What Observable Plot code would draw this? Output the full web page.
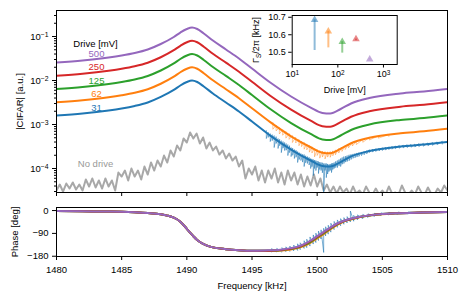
<!DOCTYPE html>
<html><head><meta charset="utf-8">
<script src="https://cdn.jsdelivr.net/npm/d3@7"></script>
<script src="https://cdn.jsdelivr.net/npm/@observablehq/plot@0.6"></script>
<style>
html,body{margin:0;padding:0;background:#fff;}
#wrap{position:relative;width:469px;height:300px;font-family:"Liberation Sans",Arial,sans-serif;}
#wrap svg{display:block;}
#inset{position:absolute;left:250px;top:0;width:160px;height:95px;}
</style></head><body>
<div id="wrap"><div id="top"></div><div id="bottom"></div><div id="inset"></div></div>
<script>
// ---------- data ----------
const drives = [500, 250, 125, 62, 31];
const colors = ["#9467bd", "#d62728", "#2ca02c", "#ff7f0e", "#1f77b4"];
const xTicks = [1480, 1485, 1490, 1495, 1500, 1505, 1510];
const yMajor = [1e-4, 1e-3, 1e-2, 1e-1];
const yMinor = [3e-5,4e-5,5e-5,6e-5,7e-5,8e-5,9e-5,2e-4,3e-4,4e-4,5e-4,6e-4,7e-4,8e-4,9e-4,2e-3,3e-3,4e-3,5e-3,6e-3,7e-3,8e-3,9e-3,2e-2,3e-2,4e-2,5e-2,6e-2,7e-2,8e-2,9e-2,2e-1,3e-1];
const phaseTicks = [0, -90, -180];

const freq = [1480,1482,1484,1485,1486,1487,1488,1489,1489.5,1490,1490.4,1490.8,1491.3,1492,1493,1494,1495,1496.4,1498,1499.5,1500.4,1501,1501.8,1502.6,1504,1506.4,1508.2,1510];
const amp500 = [0.0257,0.0285,0.0333,0.0370,0.0422,0.0507,0.0676,0.0975,0.123,0.148,0.160,0.148,0.117,0.0811,0.0507,0.0316,0.0187,0.00901,0.00433,0.00243,0.00183,0.00178,0.00225,0.00300,0.00400,0.00507,0.00562,0.00641];
const amp250 = [0.0129,0.0143,0.0167,0.0185,0.0211,0.0254,0.0338,0.0488,0.0615,0.074,0.080,0.074,0.0585,0.0406,0.0254,0.0158,0.00935,0.0045,0.00217,0.00122,0.000915,0.00089,0.00113,0.0015,0.0020,0.00254,0.00281,0.0032];
const amp125 = [0.00643,0.00713,0.00833,0.00925,0.01055,0.0127,0.0169,0.0244,0.0308,0.037,0.040,0.037,0.0293,0.0203,0.0127,0.0079,0.00468,0.00225,0.00108,0.00061,0.000458,0.000445,0.000563,0.00075,0.0010,0.00127,0.0014,0.0016];
const amp62 = [0.00321,0.00356,0.00416,0.00463,0.00528,0.00634,0.00845,0.0122,0.0154,0.0185,0.020,0.0185,0.0146,0.0101,0.00634,0.00395,0.00234,0.00113,0.00054,0.000304,0.000229,0.000223,0.000281,0.000375,0.0005,0.000634,0.0007,0.0008];
const amp31 = [0.00161,0.00178,0.00208,0.00231,0.00264,0.00317,0.00423,0.0061,0.0077,0.00925,0.010,0.00925,0.0073,0.00507,0.00317,0.00198,0.00117,0.00056,0.00027,0.000152,0.000114,0.000111,0.00014,0.000188,0.00025,0.000317,0.00035,0.0004];

// noise of the weakest drives: [freq, upper, lower]
const noise31 = [[1496.1,7.3e-4,4.8e-4],[1496.25,6.6e-4,5.1e-4],[1496.4,6.2e-4,4.1e-4],[1496.55,5.9e-4,4.3e-4],[1496.7,5.6e-4,3.0e-4],[1496.85,5.3e-4,3.7e-4],[1497.0,4.8e-4,2.85e-4],[1497.12,4.6e-4,3.3e-4],[1497.25,4.3e-4,2.3e-4],[1497.38,4.1e-4,2.9e-4],[1497.5,3.9e-4,2.57e-4],[1497.62,3.7e-4,2.6e-4],[1497.75,3.5e-4,1.97e-4],[1497.88,3.3e-4,2.3e-4],[1498.0,3.0e-4,1.87e-4],[1498.12,2.9e-4,2.0e-4],[1498.25,2.7e-4,1.69e-4],[1498.38,2.6e-4,1.8e-4],[1498.5,2.43e-4,1.37e-4],[1498.62,2.3e-4,1.6e-4],[1498.75,2.19e-4,1.52e-4],[1498.88,2.1e-4,1.4e-4],[1499.0,2.08e-4,1.11e-4],[1499.12,1.95e-4,1.35e-4],[1499.25,1.87e-4,1.30e-4],[1499.38,1.8e-4,1.2e-4],[1499.5,1.69e-4,1.0e-4],[1499.6,1.65e-4,1.1e-4],[1499.7,1.60e-4,6.9e-5],[1499.8,1.55e-4,1.0e-4],[1499.9,1.52e-4,9.0e-5],[1500.0,1.48e-4,1.05e-4],[1500.1,1.44e-4,7.7e-5],[1500.2,1.4e-4,9.5e-5],[1500.3,1.37e-4,9.0e-5],[1500.4,1.35e-4,8.0e-5],[1500.5,1.30e-4,2.85e-5],[1500.6,1.3e-4,9.0e-5],[1500.7,1.30e-4,6.2e-5],[1500.8,1.27e-4,7.5e-5],[1500.9,1.23e-4,8.5e-5],[1501.0,1.27e-4,9.0e-5],[1501.1,1.30e-4,8.1e-5],[1501.2,1.33e-4,9.5e-5],[1501.3,1.37e-4,1.0e-4],[1501.42,1.45e-4,1.05e-4],[1501.55,1.52e-4,1.05e-4],[1501.68,1.6e-4,1.15e-4],[1501.8,1.69e-4,1.11e-4],[1501.92,1.78e-4,1.25e-4],[1502.05,1.87e-4,1.30e-4],[1502.18,1.9e-4,1.4e-4],[1502.3,1.97e-4,1.44e-4],[1502.45,2.05e-4,1.5e-4],[1502.6,2.1e-4,1.6e-4],[1502.75,2.15e-4,1.7e-4],[1502.9,2.2e-4,1.75e-4],[1503.05,2.26e-4,1.82e-4],[1503.2,2.31e-4,1.88e-4],[1503.4,2.38e-4,1.96e-4],[1503.6,2.45e-4,2.05e-4],[1503.8,2.55e-4,2.15e-4],[1504.0,2.68e-4,2.3e-4],[1504.25,2.75e-4,2.36e-4],[1504.5,2.83e-4,2.43e-4],[1504.75,2.9e-4,2.5e-4],[1505.0,2.97e-4,2.56e-4],[1505.25,3.05e-4,2.62e-4],[1505.5,3.12e-4,2.69e-4],[1505.75,3.2e-4,2.75e-4],[1506.0,3.27e-4,2.82e-4],[1506.3,3.36e-4,2.89e-4],[1506.6,3.42e-4,2.94e-4],[1506.9,3.48e-4,2.99e-4],[1507.2,3.53e-4,3.04e-4],[1507.5,3.6e-4,3.09e-4],[1507.8,3.66e-4,3.15e-4],[1508.15,3.73e-4,3.21e-4],[1508.5,3.82e-4,3.28e-4],[1508.85,3.9e-4,3.36e-4],[1509.2,4.03e-4,3.47e-4],[1509.6,4.17e-4,3.59e-4]];
const noise62 = [[1496.6,1.11e-3,7.8e-4],[1496.85,9.6e-4,7.2e-4],[1497.1,8.5e-4,6.1e-4],[1497.35,7.6e-4,5.7e-4],[1497.6,6.9e-4,4.9e-4],[1497.85,6.2e-4,4.6e-4],[1498.1,5.6e-4,3.9e-4],[1498.35,5.1e-4,3.8e-4],[1498.6,4.6e-4,3.3e-4],[1498.8,4.2e-4,3.15e-4],[1499.0,3.9e-4,2.75e-4],[1499.2,3.6e-4,2.65e-4],[1499.4,3.33e-4,2.35e-4],[1499.6,3.1e-4,2.25e-4],[1499.8,2.85e-4,1.85e-4],[1500.0,2.7e-4,1.98e-4],[1500.2,2.57e-4,1.72e-4],[1500.4,2.5e-4,1.82e-4],[1500.6,2.43e-4,1.65e-4],[1500.8,2.4e-4,1.82e-4],[1501.0,2.43e-4,1.8e-4],[1501.2,2.52e-4,1.95e-4],[1501.4,2.65e-4,2.05e-4],[1501.65,2.85e-4,2.25e-4],[1501.9,3.08e-4,2.45e-4],[1502.15,3.3e-4,2.7e-4],[1502.4,3.55e-4,2.95e-4],[1502.7,3.85e-4,3.25e-4],[1503.0,4.1e-4,3.5e-4],[1503.5,4.55e-4,3.95e-4],[1504.0,5.05e-4,4.45e-4],[1504.7,5.5e-4,4.9e-4],[1505.5,5.95e-4,5.35e-4]];

// "No drive" trace, sampled every 0.25 kHz from 1480
const noDriveStart = 1480, noDriveStep = 0.25;
const noDrive = [3.16e-5,4.33e-5,3.0e-5,4.56e-5,3.51e-5,4.81e-5,3.33e-5,4.33e-5,3.16e-5,5.62e-5,3.9e-5,5.93e-5,3.7e-5,5.34e-5,3.51e-5,5.93e-5,3.9e-5,5.34e-5,3.16e-5,8.11e-5,6.58e-5,9.0e-5,5.34e-5,1.0e-4,6.58e-5,9.0e-5,5.62e-5,1.11e-4,7.31e-5,1.37e-4,9.0e-5,1.52e-4,1.11e-4,1.97e-4,1.37e-4,2.57e-4,1.87e-4,3.33e-4,2.57e-4,4.81e-4,3.9e-4,6.58e-4,4.81e-4,6.24e-4,3.7e-4,5.07e-4,2.85e-4,3.9e-4,2.57e-4,3.16e-4,2.08e-4,2.57e-4,1.69e-4,2.19e-4,1.52e-4,1.87e-4,1.11e-4,1.52e-4,5.93e-5,1.0e-4,7.31e-5,1.11e-4,5.34e-5,9.0e-5,4.81e-5,9.0e-5,5.93e-5,1.0e-4,4.81e-5,8.11e-5,4.33e-5,9.0e-5,5.34e-5,8.11e-5,4.33e-5,7.31e-5,3.9e-5,6.58e-5,4.11e-5,7.31e-5,3.9e-5,5.93e-5,3.16e-5,4.33e-5,2.85e-5,3.9e-5,2.7e-5,3.9e-5,2.85e-5,3.51e-5,2.57e-5,3.9e-5,2.7e-5,3.16e-5,2.57e-5,3.9e-5,2.85e-5,2.57e-5,3.51e-5,2.57e-5,3.16e-5,2.57e-5,3.9e-5,2.7e-5,2.85e-5,2.57e-5,4.11e-5,2.85e-5,2.57e-5,3.16e-5,2.57e-5,3.9e-5,2.85e-5,2.57e-5,3.7e-5,2.7e-5,2.57e-5,3.51e-5,2.85e-5,4.11e-5,3.16e-5];

// phase
const phaseFreq = [1480,1482,1484,1485,1486,1487,1488,1488.5,1489,1489.5,1490,1490.25,1490.5,1490.75,1491,1491.5,1492,1493,1494,1495,1496,1497,1498,1498.5,1499,1499.5,1500,1500.5,1501,1501.5,1502,1502.5,1503,1504,1505,1506,1508,1510];
const phase500 = [-2,-3,-4,-5,-7,-10,-15,-20,-28,-44,-72,-87,-101,-114,-124,-137,-145,-152,-156,-158,-157,-155,-148,-142,-132,-118,-101,-84,-67,-52,-41,-33,-27,-19,-14,-11,-8,-6];
const phase250 = [-2,-3,-4,-5,-7,-10,-15,-20,-28,-44,-72,-87,-101,-114,-124,-137,-145,-152,-156,-158,-158,-156,-150,-144,-134,-120,-103,-86,-69,-53,-42,-34,-28,-19,-14,-11,-8,-6];
const phase125 = [-2,-3,-4,-5,-7,-10,-15,-20,-28,-44,-72,-87,-101,-114,-124,-137,-145,-152,-156,-158,-158,-157,-151,-146,-136,-123,-106,-89,-71,-55,-43,-35,-28,-20,-14,-11,-8,-6];
const phase62 = [-2,-3,-4,-5,-7,-10,-15,-20,-28,-44,-72,-87,-101,-114,-124,-137,-145,-152,-156,-159,-159,-158,-153,-148,-139,-126,-110,-93,-74,-57,-44,-36,-29,-20,-15,-11,-8,-6];
const phase31 = [-2,-3,-4,-5,-7,-10,-15,-20,-28,-44,-72,-87,-101,-114,-124,-137,-145,-152,-156,-158,-158,-156,-150,-144,-134,-120,-103,-86,-69,-53,-42,-34,-28,-19,-14,-11,-8,-6];
const phaseNoise31 = [[1496.5,-163,-150],[1496.9,-163,-149],[1497.3,-164,-146],[1497.6,-162,-143],[1497.9,-161,-140],[1498.2,-159,-136],[1498.5,-157,-131],[1498.7,-154,-127],[1499.0,-149,-119],[1499.2,-146,-113],[1499.45,-140,-104],[1499.7,-132,-96],[1499.9,-126,-89],[1500.1,-118,-81],[1500.3,-112,-76],[1500.5,-165,-70],[1500.65,-100,-64],[1500.85,-93,-58],[1501.05,-85,-50],[1501.3,-75,-43],[1501.55,-66,-37],[1501.8,-60,-32],[1502.05,-54,-28],[1502.3,-49,-24],[1502.55,-45,-2],[1502.8,-42,-19],[1503.1,-37,-17],[1503.5,-32,-15],[1503.9,-27,-13],[1504.4,-23,-11],[1504.9,-20,-9],[1505.5,-17,-7],[1506.2,-15,-6],[1507.0,-13,-5],[1508.0,-11,-4]];

// inset: Gamma_S vs drive
const insetDrive = [31, 62, 125, 250, 500];
const gammaFrom = [10.51, 10.525, 10.495, 10.566, 10.458];
const gammaTo = [10.685, 10.62, 10.56, 10.575, 10.46];
const insetColors = ["#1f77b4", "#ff7f0e", "#2ca02c", "#d62728", "#9467bd"];
const insetXTicks = [10, 100, 1000];
const insetYTicks = [10.5, 10.6, 10.7];

// ---------- helpers ----------
const FONT = '"Liberation Sans", Arial, Helvetica, sans-serif';
const amps = [amp500, amp250, amp125, amp62, amp31];
const phases = [phase500, phase250, phase125, phase62, phase31];
const toRows = (xs, ys) => ys.map((v, j) => ({f: xs[j], v}));
const zigzag = rows => rows.flatMap(d => [{f: d[0], v: d[1]}, {f: d[0], v: d[2]}]);
const noDriveRows = noDrive.map((v, i) => ({f: noDriveStart + i * noDriveStep, v}));
const expFmt = d => "10^" + Math.round(Math.log10(d));

function supify(svg) {
  svg.querySelectorAll("text").forEach(t => {
    if (t.querySelector("tspan")) return;
    const s = t.textContent;
    const i = s.indexOf("^");
    if (i < 0) return;
    t.textContent = s.slice(0, i);
    const sp = document.createElementNS("http://www.w3.org/2000/svg", "tspan");
    sp.setAttribute("dy", "-0.42em");
    sp.setAttribute("font-size", "0.72em");
    sp.textContent = s.slice(i + 1).replace("-", "\u2212");
    t.appendChild(sp);
  });
}

// ---------- top panel ----------
const lineMarks = [];
const order = [4, 3, 2, 1, 0]; // blue first, purple on top
for (const i of order) {
  if (i === 4) lineMarks.push(Plot.line(zigzag(noise31), {x: "f", y: "v", stroke: colors[4], strokeWidth: 0.8, strokeOpacity: 0.7, clip: true}));
  if (i === 3) lineMarks.push(Plot.line(zigzag(noise62), {x: "f", y: "v", stroke: colors[3], strokeWidth: 0.8, strokeOpacity: 0.55, clip: true}));
  lineMarks.push(Plot.line(toRows(freq, amps[i]), {x: "f", y: "v", stroke: colors[i], strokeWidth: 2, curve: "monotone-x", clip: true}));
}
const legendMarks = drives.map((d, i) => Plot.text([String(d)], {frameAnchor: "top-left", lineAnchor: "middle", dx: 40, dy: 43 + i * 13.5, fill: colors[i], textAnchor: "middle"}));

const topPlot = Plot.plot({
  width: 469, height: 198, marginLeft: 56, marginRight: 22, marginTop: 10, marginBottom: 6,
  style: {fontFamily: FONT, fontSize: "9.5px", background: "transparent", overflow: "visible"},
  x: {domain: [1480, 1510]},
  y: {type: "log", domain: [2.85e-5, 0.39]},
  marks: [
    Plot.line(noDriveRows, {x: "f", y: "v", stroke: "#a8a8a8", strokeWidth: 2, clip: true}),
    ...lineMarks,
    Plot.text(["Drive [mV]"], {frameAnchor: "top-left", lineAnchor: "middle", dx: 39, dy: 33, fill: "black", textAnchor: "middle"}),
    ...legendMarks,
    Plot.text(["No drive"], {frameAnchor: "top-left", lineAnchor: "middle", dx: 39, dy: 153, fill: "#999999", textAnchor: "middle"}),
    Plot.frame({stroke: "black", strokeWidth: 1}),
    Plot.axisX(xTicks, {tickSize: 4, tickFormat: () => "", label: null}),
    Plot.axisY(yMinor, {tickSize: 2, tickFormat: () => "", label: null}),
    Plot.axisY(yMajor, {tickSize: 4, tickPadding: 4, tickFormat: expFmt, label: "|CIFAR| [a.u.]", labelAnchor: "center", labelArrow: "none", labelOffset: 40})
  ]
});
supify(topPlot);
document.getElementById("top").appendChild(topPlot);

// ---------- phase panel ----------
const phaseMarks = [Plot.line(zigzag(phaseNoise31), {x: "f", y: "v", stroke: colors[4], strokeWidth: 0.8, strokeOpacity: 0.75, clip: true})];
for (const i of order) {
  phaseMarks.push(Plot.line(toRows(phaseFreq, phases[i]), {x: "f", y: "v", stroke: colors[i], strokeWidth: 2, curve: "monotone-x", clip: true}));
}
const bottomPlot = Plot.plot({
  width: 469, height: 102, marginLeft: 56, marginRight: 22, marginTop: 9, marginBottom: 44,
  style: {fontFamily: FONT, fontSize: "9.5px", background: "transparent", overflow: "visible"},
  x: {domain: [1480, 1510]},
  y: {domain: [-181, 12]},
  marks: [
    ...phaseMarks,
    Plot.frame({stroke: "black", strokeWidth: 1}),
    Plot.axisX(xTicks, {tickSize: 4, tickPadding: 6, tickFormat: d => String(d), label: "Frequency [kHz]", labelAnchor: "center", labelArrow: "none", labelOffset: 32}),
    Plot.axisY(phaseTicks, {tickSize: 4, tickPadding: 4, label: "Phase [deg]", labelAnchor: "center", labelArrow: "none", labelOffset: 45})
  ]
});
document.getElementById("bottom").appendChild(bottomPlot);

// ---------- inset ----------
const insetRows = insetDrive.map((d, i) => ({drive: d, from: gammaFrom[i], to: gammaTo[i], color: insetColors[i]}));
const insetPlot = Plot.plot({
  width: 160, height: 95, marginLeft: 41.7, marginRight: 13.3, marginTop: 15, marginBottom: 31,
  style: {fontFamily: FONT, fontSize: "9px", background: "transparent", overflow: "visible"},
  x: {type: "log", domain: [10, 2000]},
  y: {domain: [10.43, 10.71]},
  color: {type: "identity"},
  marks: [
    Plot.frame({fill: "white", stroke: "none"}),
    Plot.ruleX(insetRows, {x: "drive", y1: "from", y2: "to", stroke: d => d.color, strokeWidth: 2, strokeOpacity: 0.5}),
    Plot.dot(insetRows, {x: "drive", y: "to", symbol: "triangle", r: 2.8, fill: d => d.color, fillOpacity: 0.55, stroke: "none"}),
    Plot.frame({stroke: "black", strokeWidth: 1}),
    Plot.axisX(insetXTicks, {tickSize: 3.5, tickPadding: 3, tickFormat: expFmt, label: "Drive [mV]", labelAnchor: "center", labelArrow: "none", labelOffset: 28}),
    Plot.axisY(insetYTicks, {tickSize: 3.5, tickPadding: 3, tickFormat: d => d.toFixed(1), label: "Γ_S/2π [kHz]", labelAnchor: "center", labelArrow: "none", labelOffset: 40})
  ]
});
supify(insetPlot);
insetPlot.querySelectorAll("text").forEach(t => {
  if (t.textContent === "Γ_S/2π [kHz]") {
    t.textContent = "Γ";
    const NS = "http://www.w3.org/2000/svg";
    const a = document.createElementNS(NS, "tspan");
    a.setAttribute("dy", "2.5"); a.setAttribute("font-size", "0.7em"); a.textContent = "S";
    const b = document.createElementNS(NS, "tspan");
    b.setAttribute("dy", "-2.5"); b.textContent = "/2π [kHz]";
    t.appendChild(a); t.appendChild(b);
  }
});
document.getElementById("inset").appendChild(insetPlot);
</script>
</body></html>
